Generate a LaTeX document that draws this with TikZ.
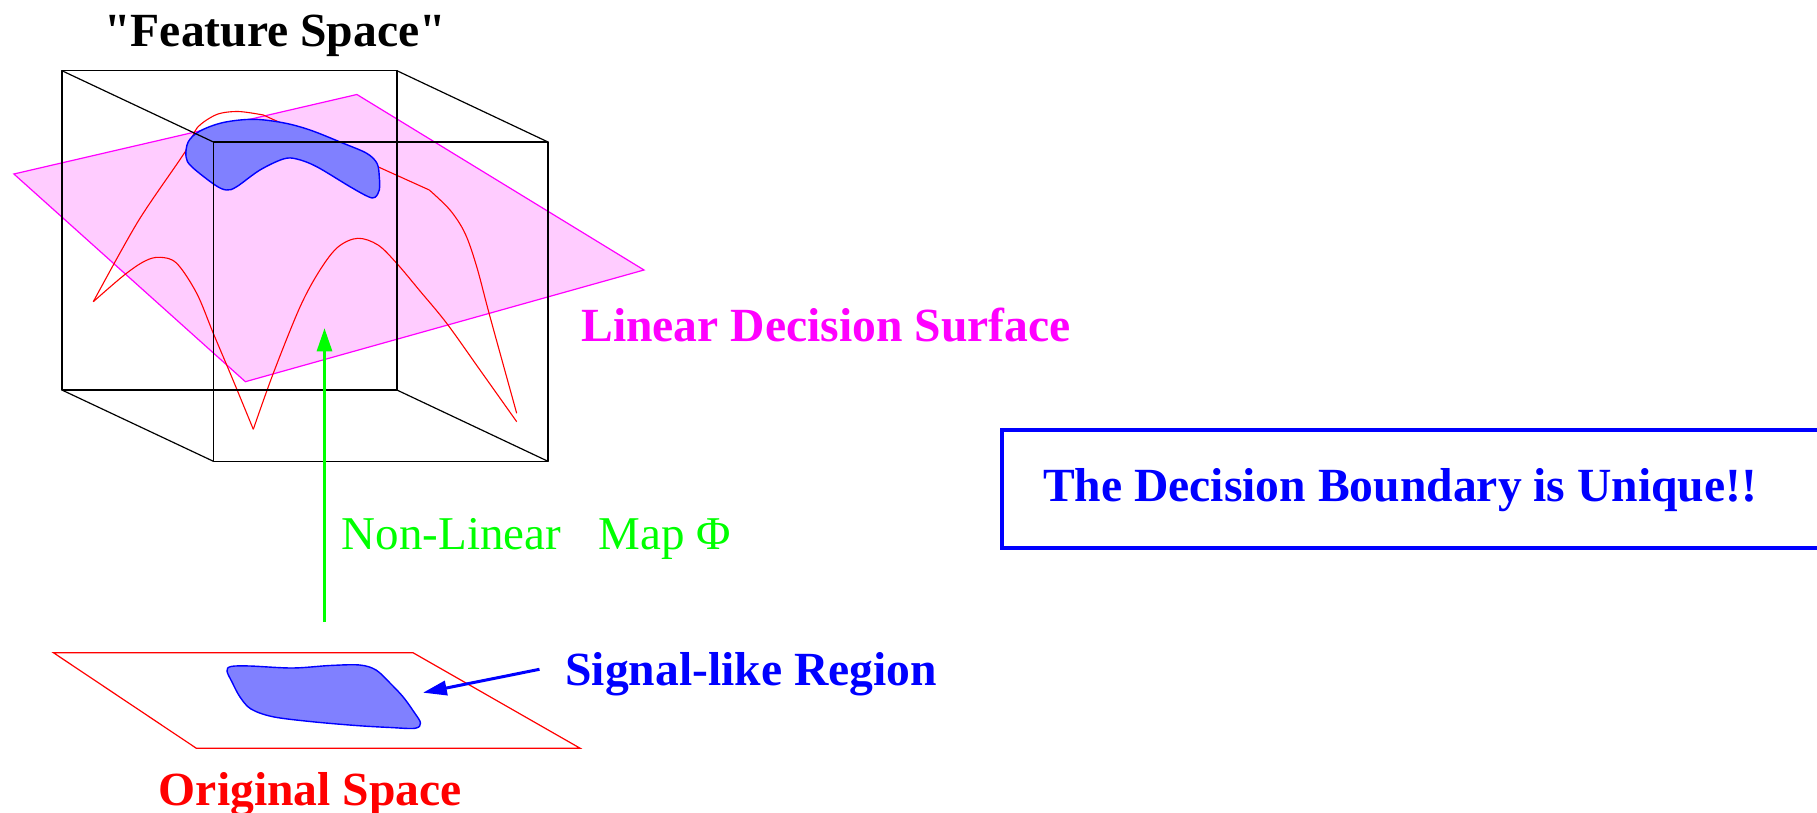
\documentclass[tikz,border=0pt]{standalone}
\usepackage{fontspec}
\setmainfont{Liberation Serif}[Ligatures=TeXOff]
\usetikzlibrary{arrows.meta}

\definecolor{planepink}{RGB}{255,204,255}
\definecolor{blobblue}{RGB}{128,128,255}
\definecolor{pureblue}{RGB}{0,0,255}
\definecolor{puregreen}{RGB}{0,255,0}
\definecolor{puremagenta}{RGB}{255,0,255}
\definecolor{purered}{RGB}{255,0,0}

\begin{document}
\begin{tikzpicture}[x=0.5pt,y=-0.5pt,
  cubeedge/.style={black, line width=0.6pt, line join=round},
  redcurve/.style={purered, line width=0.55pt},
  planeface/.style={fill=planepink, draw=puremagenta, line width=0.6pt},
  groundplane/.style={draw=purered, line width=0.6pt},
  region/.style={fill=blobblue, draw=pureblue, line width=0.7pt},
  biglabel/.style={inner sep=0pt, anchor=base west,
    font=\fontsize{23.8}{28}\selectfont\bfseries},
  plainlabel/.style={inner sep=0pt, anchor=base west,
    font=\fontsize{23.5}{28}\selectfont},
  maparrow/.style={puregreen, line width=1.8pt,
    -{Triangle[length=11.7pt,width=7.4pt]}},
  pointer/.style={pureblue, line width=1.5pt,
    -{Triangle[length=11.9pt,width=7.2pt]}},
  framebox/.style={draw=pureblue, line width=2pt}
]
\useasboundingbox (0,0) rectangle (1817,813);
\clip (0,0) rectangle (1817,813);

% ---------- feature space: decision plane ----------
\draw[planeface] (13.9,174) -- (356.9,94.5) -- (644,270) -- (245.4,381.7) -- cycle;

% ---------- mapped curves ----------
\draw[redcurve] plot[smooth, tension=0.5] coordinates {
  (93.3,301.7) (138.3,221) (185,152) (197,128)
  (216.7,114.5) (238.3,111.5) (263.3,115)}
  -- (429.3,190);
\draw[redcurve] plot[smooth, tension=0.55] coordinates {
  (429.3,190) (450,210) (465,233.3) (476.7,266.7) (490,316.7) (516.7,413.3)};
\draw[redcurve] plot[smooth, tension=0.55] coordinates {
  (93.3,301.7) (124.3,275) (145,261) (160,257.3) (176.7,263.3)
  (196.7,293.3) (213.3,333.3) (233,380) (253.3,429.3)};
\draw[redcurve] plot[smooth, tension=0.55] coordinates {
  (253.3,429.3) (273.3,373.3) (300,307) (320,270) (338,247) (357.8,238.3)
  (378,245) (396.7,263.3) (420,291) (446.7,323.3) (480,370) (516.7,421.7)};

% ---------- signal region in feature space ----------
\draw[region] plot[smooth cycle, tension=0.55] coordinates {
  (188.3,141.7) (200,131) (223.3,122.5) (253.3,119.3) (283.3,122.8)
  (310,130) (343.3,143.3) (366.7,153.3) (377,163.3) (379.3,176.7)
  (379.3,190) (375,197.3) (368.3,196.7) (350,186.7) (316.7,166.7)
  (296.7,159) (283.3,159) (260,170) (236.7,186.7) (226.7,190)
  (215,185) (191.7,166.7) (186,156.7)};

% ---------- feature space cube ----------
\coordinate (bTL) at (61.9,70.7);
\coordinate (bTR) at (396.9,70.7);
\coordinate (bBL) at (61.9,390);
\coordinate (bBR) at (396.9,390);
\coordinate (fTL) at (213.4,142);
\coordinate (fTR) at (548,142);
\coordinate (fBL) at (213.4,461.3);
\coordinate (fBR) at (548,461.3);
\draw[cubeedge] (bTL) -- (bTR) -- (bBR) -- (bBL) -- cycle;
\draw[cubeedge] (fTL) -- (fTR) -- (fBR) -- (fBL) -- cycle;
\draw[cubeedge] (bTL) -- (fTL);
\draw[cubeedge] (bTR) -- (fTR);
\draw[cubeedge] (bBL) -- (fBL);
\draw[cubeedge] (bBR) -- (fBR);

% ---------- original space ----------
\draw[groundplane] (53.4,652.7) -- (413,652.7) -- (580.2,748.3) -- (196.4,748.3) -- cycle;
\draw[region] plot[smooth cycle, tension=0.55] coordinates {
  (231,666.5) (250,666) (292.5,668) (330,665.5) (359.7,665) (376,670)
  (390,683) (403.2,697) (414,712) (420.5,723) (415,728.3) (390,727.5)
  (355.7,725.5) (310,721.5) (272.7,716.7) (251,709) (240,697) (232,682)
  (227,671)};

% ---------- labels ----------
\node[biglabel] (feature) at (104,46.7) {"Feature Space"};
\node[biglabel, text=puremagenta] (surface) at (581,341.7) {Linear Decision Surface};
\node[plainlabel, text=puregreen] (maplabel) at (341.5,549.3) {Non-Linear\hspace{0.8em}Map Φ};
\node[biglabel, text=pureblue] (signal) at (565,685) {Signal-like Region};
\node[biglabel, text=purered] (original) at (158.5,805) {Original Space};
\node[biglabel, text=pureblue] (unique) at (1042.7,501.7) {The Decision Boundary is Unique!!};

% ---------- frame round the conclusion ----------
\draw[framebox] (1001.6,430) rectangle (1850,548.3);

% ---------- connectors ----------
\coordinate (mapfoot) at (324.5,622);
\coordinate (maphead) at (324.5,328);
\draw[maparrow] (mapfoot) -- (maphead);

\coordinate (pointfoot) at (539.5,669.3);
\coordinate (pointhead) at (423,692.7);
\draw[pointer] (pointfoot) -- (pointhead);
\end{tikzpicture}
\end{document}
